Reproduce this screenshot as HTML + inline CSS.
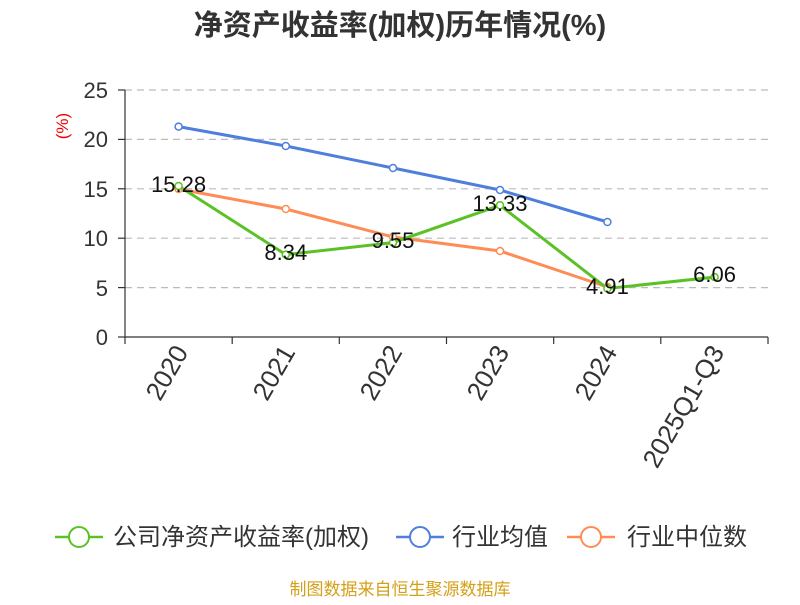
<!DOCTYPE html>
<html><head><meta charset="utf-8"><style>
body{margin:0;background:#fff;}
svg text{font-family:"Liberation Sans","Noto Sans CJK SC",sans-serif;}
</style></head><body>
<svg width="800" height="600" viewBox="0 0 800 600" xmlns="http://www.w3.org/2000/svg">
<text x="400" y="35" text-anchor="middle" font-size="29" font-weight="bold" fill="#333">净资产收益率(加权)历年情况(%)</text>
<text x="68" y="126" font-size="17" fill="#e00" transform="rotate(-90 68 126)" text-anchor="middle">(%)</text>
<g stroke="#bbb" stroke-dasharray="7,5" stroke-width="1.2">
<line x1="125" y1="90" x2="768" y2="90"/><line x1="125" y1="139.4" x2="768" y2="139.4"/>
<line x1="125" y1="188.8" x2="768" y2="188.8"/><line x1="125" y1="238.2" x2="768" y2="238.2"/>
<line x1="125" y1="287.6" x2="768" y2="287.6"/></g>
<g stroke="#333" stroke-width="1.2">
<line x1="125" y1="90" x2="125" y2="337"/><line x1="125" y1="337" x2="768" y2="337"/>
<line x1="118" y1="90" x2="125" y2="90"/><line x1="118" y1="139.4" x2="125" y2="139.4"/><line x1="118" y1="188.8" x2="125" y2="188.8"/><line x1="118" y1="238.2" x2="125" y2="238.2"/><line x1="118" y1="287.6" x2="125" y2="287.6"/><line x1="118" y1="337" x2="125" y2="337"/>
<line x1="125" y1="337" x2="125" y2="344"/><line x1="232.2" y1="337" x2="232.2" y2="344"/><line x1="339.3" y1="337" x2="339.3" y2="344"/><line x1="446.5" y1="337" x2="446.5" y2="344"/><line x1="553.7" y1="337" x2="553.7" y2="344"/><line x1="660.8" y1="337" x2="660.8" y2="344"/><line x1="768" y1="337" x2="768" y2="344"/>
</g>
<g font-size="22" fill="#333" text-anchor="end">
<text x="108" y="98">25</text><text x="108" y="147">20</text><text x="108" y="197">15</text><text x="108" y="246">10</text><text x="108" y="296">5</text><text x="108" y="345">0</text></g>
<g font-size="26" fill="#333" text-anchor="end">
<text transform="translate(189,352) rotate(-60)">2020</text>
<text transform="translate(296,352) rotate(-60)">2021</text>
<text transform="translate(403,352) rotate(-60)">2022</text>
<text transform="translate(510,352) rotate(-60)">2023</text>
<text transform="translate(618,352) rotate(-60)">2024</text>
<text transform="translate(725,352) rotate(-60)">2025Q1-Q3</text></g>
<g fill="#fff" stroke-width="1.5">
<polyline fill="none" stroke="#4e7fdd" stroke-width="3" points="178.6,126.6 285.8,146 393,168 500,190 607.4,222"/>
<polyline fill="none" stroke="#ff8c55" stroke-width="3" points="178.6,189 285.8,209 393,237 500,251 607.4,287"/>
<polyline fill="none" stroke="#5bc225" stroke-width="3" points="178.6,186 285.8,254.6 393,242.6 500,205.3 607.4,288.5 714.6,277.1"/>
<g stroke="#4e7fdd"><circle cx="178.6" cy="126.6" r="3.5"/><circle cx="285.8" cy="146" r="3.5"/><circle cx="393" cy="168" r="3.5"/><circle cx="500" cy="190" r="3.5"/><circle cx="607.4" cy="222" r="3.5"/></g>
<g stroke="#ff8c55"><circle cx="178.6" cy="189" r="3.5"/><circle cx="285.8" cy="209" r="3.5"/><circle cx="393" cy="237" r="3.5"/><circle cx="500" cy="251" r="3.5"/><circle cx="607.4" cy="287" r="3.5"/></g>
<g stroke="#5bc225"><circle cx="178.6" cy="186" r="3.5"/><circle cx="285.8" cy="254.6" r="3.5"/><circle cx="393" cy="242.6" r="3.5"/><circle cx="500" cy="205.3" r="3.5"/><circle cx="607.4" cy="288.5" r="3.5"/><circle cx="714.6" cy="277.1" r="3.5"/></g>
</g>
<g font-size="22" fill="#111" text-anchor="middle">
<text x="178.6" y="192">15.28</text><text x="285.8" y="260">8.34</text><text x="393" y="248">9.55</text><text x="500" y="211">13.33</text><text x="607.4" y="294">4.91</text><text x="714.6" y="282">6.06</text></g>
<g font-size="24" fill="#333">
<line x1="55" y1="537" x2="103" y2="537" stroke="#5bc225" stroke-width="2.5"/><circle cx="79" cy="537" r="10" fill="#fff" stroke="#5bc225" stroke-width="2"/>
<text x="113" y="545">公司净资产收益率(加权)</text>
<line x1="396" y1="537" x2="444" y2="537" stroke="#4e7fdd" stroke-width="2.5"/><circle cx="420" cy="537" r="10" fill="#fff" stroke="#4e7fdd" stroke-width="2"/>
<text x="452" y="545">行业均值</text>
<line x1="567" y1="537" x2="615" y2="537" stroke="#ff8c55" stroke-width="2.5"/><circle cx="591" cy="537" r="10" fill="#fff" stroke="#ff8c55" stroke-width="2"/>
<text x="627" y="545">行业中位数</text></g>
<text x="400" y="595" text-anchor="middle" font-size="17" fill="#d4a017">制图数据来自恒生聚源数据库</text>
</svg>
</body></html>
